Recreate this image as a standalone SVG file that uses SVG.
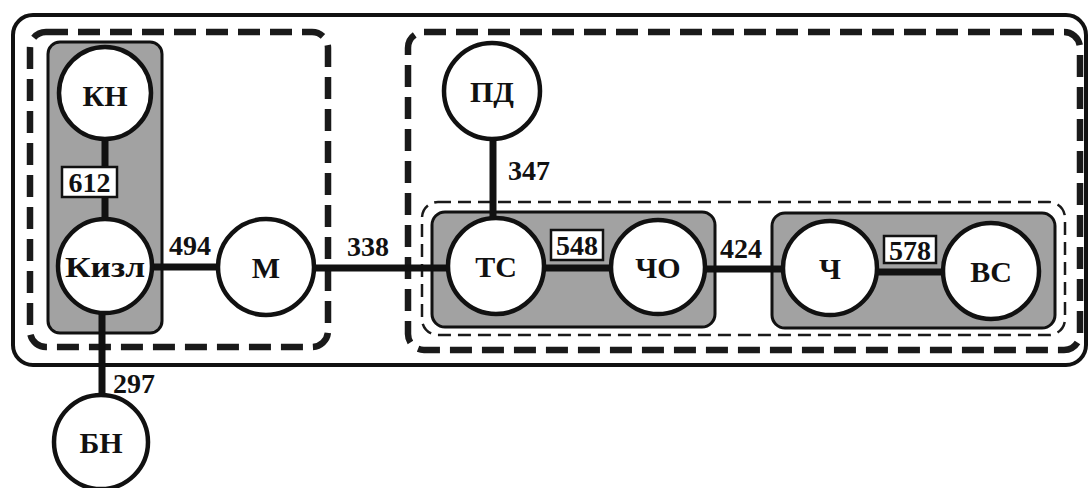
<svg xmlns="http://www.w3.org/2000/svg" width="1090" height="488" viewBox="0 0 1090 488">
<style>
.frame{fill:none;stroke:#111;stroke-width:4}
.dashT{fill:none;stroke:#1a1a1a;stroke-width:6.5;stroke-dasharray:22 10}
.dashS{fill:none;stroke:#1a1a1a;stroke-width:2.5;stroke-dasharray:13 7}
.grp{fill:#a2a2a2;stroke:#111;stroke-width:3}
.node circle{fill:#fff;stroke:#111;stroke-width:4.5}
.node text{font-family:"Liberation Serif",serif;font-weight:bold;font-size:30px;fill:#111;text-anchor:middle}
.edge{stroke:#111;stroke-width:7;fill:none}
.lbl{font-family:"Liberation Serif",serif;font-weight:bold;font-size:28px;fill:#111}
.box{fill:#fff;stroke:#111;stroke-width:2.5}
</style>
<rect width="1090" height="488" fill="#fff"/>
<rect class="frame" x="13" y="15" width="1073" height="350" rx="20"/>
<rect class="dashT" x="30" y="32" width="298" height="315" rx="16"/>
<rect class="dashT" x="408" y="32" width="672" height="318" rx="16"/>
<rect class="dashS" x="422" y="202" width="643" height="133" rx="16"/>
<rect class="grp" x="48" y="42" width="114" height="291" rx="12"/>
<rect class="grp" x="432" y="212" width="283" height="115" rx="13"/>
<rect class="grp" x="772" y="213" width="283" height="115" rx="13"/>
<g id="connectors">
<line class="edge" x1="105" y1="138" x2="105" y2="220"/>
<line class="edge" x1="102" y1="312" x2="102" y2="396"/>
<line class="edge" x1="152" y1="267" x2="219" y2="267"/>
<line class="edge" x1="313" y1="268" x2="449" y2="268"/>
<line class="edge" x1="493" y1="137" x2="493" y2="220"/>
<line class="edge" x1="543" y1="268" x2="612" y2="268"/>
<line class="edge" x1="704" y1="269" x2="784" y2="269"/>
<line class="edge" x1="876" y1="272" x2="945" y2="272"/>
<rect class="box" x="62" y="167" width="55" height="30"/>
<text class="lbl" x="89.5" y="192" text-anchor="middle">612</text>
<text class="lbl" x="190" y="255" text-anchor="middle">494</text>
<text class="lbl" x="368" y="256" text-anchor="middle">338</text>
<text class="lbl" x="134" y="393" text-anchor="middle">297</text>
<text class="lbl" x="529" y="180" text-anchor="middle">347</text>
<rect class="box" x="551" y="230" width="52" height="30"/>
<text class="lbl" x="577" y="255" text-anchor="middle">548</text>
<text class="lbl" x="741" y="258" text-anchor="middle">424</text>
<rect class="box" x="884" y="236" width="52" height="27"/>
<text class="lbl" x="910" y="260" text-anchor="middle">578</text>
</g>
<g id="n-kn" class="node"><circle cx="105" cy="93" r="46"/><text x="105" y="106">КН</text></g>
<g id="n-kizl" class="node"><circle cx="105" cy="266" r="47"/><text x="105" y="277" textLength="80" lengthAdjust="spacingAndGlyphs">Кизл</text></g>
<g id="n-bn" class="node"><circle cx="101" cy="442" r="47"/><text x="101" y="453">БН</text></g>
<g id="n-m" class="node"><circle cx="266" cy="267" r="48"/><text x="266" y="278">М</text></g>
<g id="n-pd" class="node"><circle cx="492" cy="91" r="48"/><text x="492" y="102">ПД</text></g>
<g id="n-ts" class="node"><circle cx="496" cy="266" r="48"/><text x="496" y="277">ТС</text></g>
<g id="n-cho" class="node"><circle cx="658" cy="267" r="47"/><text x="658" y="278">ЧО</text></g>
<g id="n-ch" class="node"><circle cx="830" cy="268" r="47"/><text x="830" y="279">Ч</text></g>
<g id="n-vs" class="node"><circle cx="991" cy="271" r="48"/><text x="991" y="282">ВС</text></g>
</svg>
